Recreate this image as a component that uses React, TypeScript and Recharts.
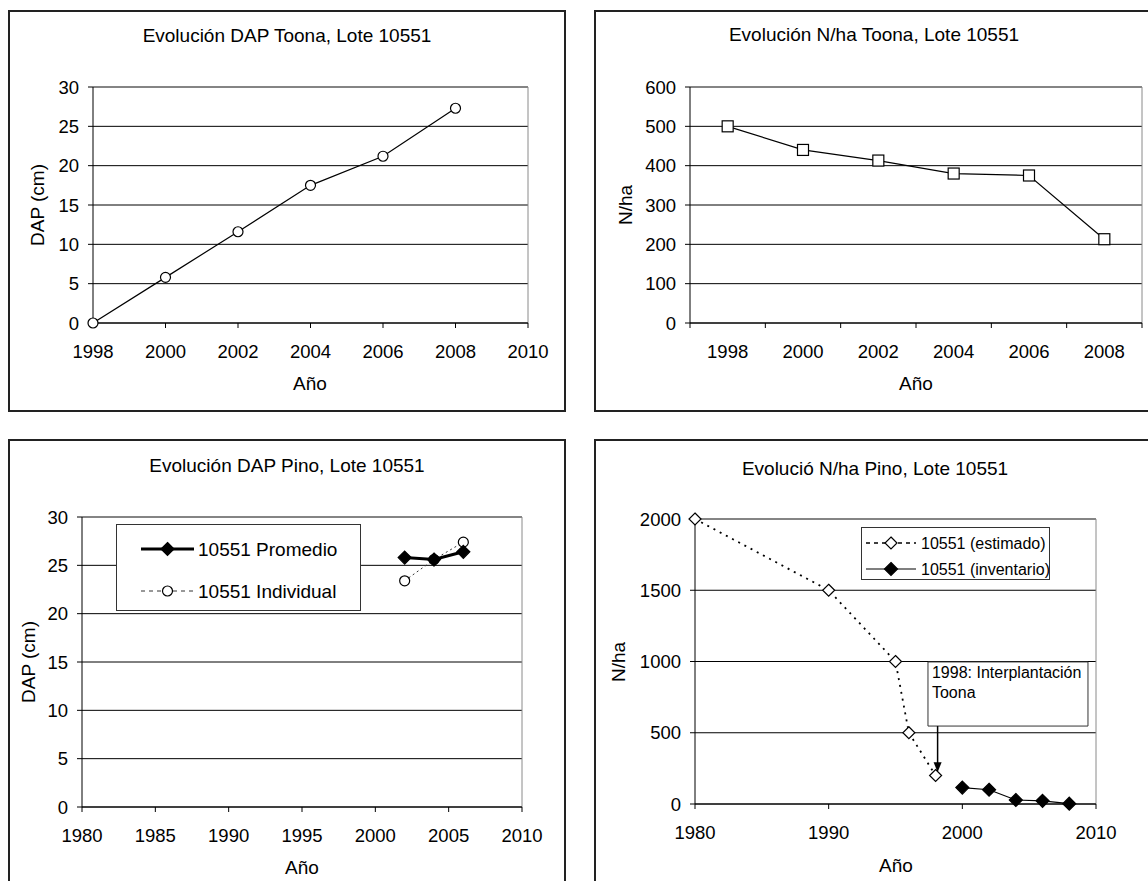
import React from 'react';
import {
  LineChart,
  Line,
  XAxis,
  YAxis,
  CartesianGrid,
  ReferenceLine,
  ReferenceArea,
  Legend,
} from 'recharts';

const FONT = '"Liberation Sans", Arial, Helvetica, sans-serif';

// Toona, lote 10551
const toonaYears = [1998, 2000, 2002, 2004, 2006, 2008];
const toonaDap = [0, 5.8, 11.6, 17.5, 21.2, 27.3];
const toonaN = [500, 440, 413, 380, 375, 213];

// Pino, lote 10551 - DAP
const pinoDapYears = [2002, 2004, 2006];
const pinoDapPromedio = [25.8, 25.6, 26.4];
const pinoDapIndividual = [23.4, 25.6, 27.4];

// Pino, lote 10551 - N/ha
const pinoEstYears = [1980, 1990, 1995, 1996, 1998];
const pinoEstN = [2000, 1500, 1000, 500, 200];
const pinoInvYears = [2000, 2002, 2004, 2006, 2008];
const pinoInvN = [115, 100, 28, 22, 2];

// ticks
const dapTicks = [0, 5, 10, 15, 20, 25, 30];
const toonaYearTicks = [1998, 2000, 2002, 2004, 2006, 2008, 2010];
const toonaNTicks = [0, 100, 200, 300, 400, 500, 600];
const toonaCatTicks = [1997, 1998, 1999, 2000, 2001, 2002, 2003, 2004, 2005, 2006, 2007, 2008, 2009];
const pinoYearTicks5 = [1980, 1985, 1990, 1995, 2000, 2005, 2010];
const pinoYearTicks10 = [1980, 1990, 2000, 2010];
const pinoNTicks = [0, 500, 1000, 1500, 2000];

// note on the N/ha Pino chart
const notaLines = ['1998: Interplantación', 'Toona'];
const notaBox = { x1: 1997.43, x2: 2009.4, y1: 547, y2: 997 };
const notaArrow = { x: 1998.15, from: 547, to: 222 };

const toonaDapData = toonaYears.map((year, i) => ({ year, dap: toonaDap[i] }));
const toonaNData = toonaYears.map((year, i) => ({ year, n: toonaN[i] }));
const promedioData = pinoDapYears.map((year, i) => ({ year, v: pinoDapPromedio[i] }));
const individualData = pinoDapYears.map((year, i) => ({ year, v: pinoDapIndividual[i] }));
const estimadoData = pinoEstYears.map((year, i) => ({ year, v: pinoEstN[i] }));
const inventarioData = pinoInvYears.map((year, i) => ({ year, v: pinoInvN[i] }));

const TICK = { fill: '#000', fontSize: 18.5 };
const GRAY = '#8a8a8a';

type MarkerKind = 'circle' | 'square' | 'diamond' | 'openDiamond';

function marker(kind: MarkerKind, cx: number, cy: number, key?: React.Key) {
  if (kind === 'circle')
    return <circle key={key} cx={cx} cy={cy} r={5} fill="#fff" stroke="#000" strokeWidth={1.2} />;
  if (kind === 'square')
    return <rect key={key} x={cx - 5.5} y={cy - 5.5} width={11} height={11} fill="#fff" stroke="#000" strokeWidth={1.2} />;
  const h = kind === 'diamond' ? 6.5 : 6;
  return (
    <polygon
      key={key}
      points={`${cx},${cy - h} ${cx + h},${cy} ${cx},${cy + h} ${cx - h},${cy}`}
      fill={kind === 'diamond' ? '#000' : '#fff'}
      stroke="#000"
      strokeWidth={1.2}
    />
  );
}

const dotOf = (kind: MarkerKind) => (props: any) => {
  const { cx, cy, index } = props;
  if (cx == null || cy == null) return <g key={`e-${index}`} />;
  return marker(kind, cx, cy, `m-${index}`);
};

function Txt({ x, y, text, size = 19, rotate = false }: { x: number; y: number; text: string; size?: number; rotate?: boolean }) {
  return (
    <div
      style={{
        position: 'absolute',
        left: x,
        top: y,
        transform: `translate(-50%, -50%)${rotate ? ' rotate(-90deg)' : ''}`,
        fontSize: size,
        lineHeight: 1,
        whiteSpace: 'nowrap',
        color: '#000',
      }}
    >
      {text}
    </div>
  );
}

function Frame({ left, top, width, height }: { left: number; top: number; width: number; height: number }) {
  return (
    <div
      style={{
        position: 'absolute',
        left,
        top,
        width,
        height,
        border: '2px solid #222',
        boxSizing: 'border-box',
        background: '#fff',
      }}
    />
  );
}

type LegendRow = { name: string; width: number; dash?: string; color: string; marker: MarkerKind };

function LegendBox({ rows, w, h, rowY, x0, x1, tx, fontSize }: {
  rows: LegendRow[]; w: number; h: number; rowY: number[]; x0: number; x1: number; tx: number; fontSize: number;
}) {
  const mx = (x0 + x1) / 2;
  return (
    <div style={{ width: w, height: h, border: '1px solid #333', background: '#fff', boxSizing: 'border-box' }}>
      <svg width={w - 2} height={h - 2} style={{ display: 'block' }}>
        {rows.map((r, i) => (
          <g key={r.name}>
            <line x1={x0} x2={x1} y1={rowY[i]} y2={rowY[i]} stroke={r.color} strokeWidth={r.width} strokeDasharray={r.dash} />
            {marker(r.marker, mx, rowY[i])}
            <text x={tx} y={rowY[i]} dy="0.35em" fontSize={fontSize} fill="#000">{r.name}</text>
          </g>
        ))}
      </svg>
    </div>
  );
}

function CategoryTick(props: any) {
  const { x, y, payload } = props;
  const v = payload.value;
  if (toonaYears.includes(v)) {
    return (
      <text x={x} y={y + 22} dy="0.71em" textAnchor="middle" fontSize={18.5} fill="#000">
        {v}
      </text>
    );
  }
  return <line x1={x} y1={y} x2={x} y2={y + 5} stroke="#000" />;
}

function ArrowShape(props: any) {
  const { x1, y1, x2, y2 } = props;
  const top = Math.min(y1, y2);
  const bottom = Math.max(y1, y2);
  return (
    <g>
      <line x1={x1} x2={x2} y1={top} y2={bottom - 9} stroke="#000" strokeWidth={1.5} />
      <polygon points={`${x2 - 4},${bottom - 10} ${x2 + 4},${bottom - 10} ${x2},${bottom}`} fill="#000" />
    </g>
  );
}

function NotaLabel(props: any) {
  const vb = props.viewBox || {};
  return (
    <text x={vb.x + 4} y={vb.y + 10} fontSize={16} fill="#000">
      {notaLines.map((l, i) => (
        <tspan key={l} x={vb.x + 4} dy={i === 0 ? '0.35em' : 20}>{l}</tspan>
      ))}
    </text>
  );
}

const pinoDapLegend: LegendRow[] = [
  { name: '10551 Promedio', width: 3, color: '#000', marker: 'diamond' },
  { name: '10551 Individual', width: 1, dash: '4 4', color: '#333', marker: 'circle' },
];
const pinoNLegend: LegendRow[] = [
  { name: '10551 (estimado)', width: 1.5, dash: '4 4', color: '#000', marker: 'openDiamond' },
  { name: '10551 (inventario)', width: 1.2, color: '#000', marker: 'diamond' },
];

export default function App() {
  return (
    <div
      style={{
        position: 'absolute',
        left: 0,
        top: 0,
        width: 1148,
        height: 881,
        overflow: 'hidden',
        background: '#fff',
        fontFamily: FONT,
      }}
    >
      {/* Panel 1: DAP Toona */}
      <Frame left={8} top={10} width={558} height={402} />
      <div style={{ position: 'absolute', left: 9, top: 10 }}>
        <LineChart width={556} height={401} margin={{ top: 77, right: 37, left: 34, bottom: 21 }} data={toonaDapData}>
          <CartesianGrid vertical={false} stroke="#000" />
          <XAxis
            dataKey="year"
            type="number"
            domain={[1998, 2010]}
            ticks={toonaYearTicks}
            interval={0}
            height={67}
            tick={TICK}
            tickSize={5}
            tickMargin={17}
            stroke="#000"
          />
          <YAxis domain={[0, 30]} ticks={dapTicks} interval={0} width={50} tick={TICK} tickSize={5} tickMargin={9} stroke="#000" />
          <ReferenceLine y={30} stroke={GRAY} />
          <ReferenceLine x={2010} stroke={GRAY} />
          <Line dataKey="dap" stroke="#000" strokeWidth={1.2} dot={dotOf('circle')} isAnimationActive={false} />
        </LineChart>
      </div>
      <Txt x={287} y={35} text="Evolución DAP Toona, Lote 10551" />
      <Txt x={37} y={205} text="DAP (cm)" rotate />
      <Txt x={310} y={383} text="Año" />

      {/* Panel 2: N/ha Toona */}
      <Frame left={594} top={10} width={562} height={402} />
      <div style={{ position: 'absolute', left: 595, top: 10 }}>
        <LineChart width={560} height={401} margin={{ top: 77, right: 13, left: 45, bottom: 21 }} data={toonaNData}>
          <CartesianGrid vertical={false} stroke="#000" />
          <XAxis
            dataKey="year"
            type="number"
            domain={[1997, 2009]}
            ticks={toonaCatTicks}
            interval={0}
            height={67}
            tick={<CategoryTick />}
            tickLine={false}
            tickSize={0}
            tickMargin={0}
            stroke="#000"
          />
          <YAxis domain={[0, 600]} ticks={toonaNTicks} interval={0} width={50} tick={TICK} tickSize={5} tickMargin={9} stroke="#000" />
          <ReferenceLine y={600} stroke={GRAY} />
          <ReferenceLine x={2009} stroke={GRAY} />
          <Line dataKey="n" stroke="#000" strokeWidth={1.2} dot={dotOf('square')} isAnimationActive={false} />
        </LineChart>
      </div>
      <Txt x={874} y={34} text="Evolución N/ha Toona, Lote 10551" />
      <Txt x={625} y={205} text="N/ha" rotate />
      <Txt x={916} y={383} text="Año" />

      {/* Panel 3: DAP Pino */}
      <Frame left={8} top={439} width={558} height={470} />
      <div style={{ position: 'absolute', left: 9, top: 439 }}>
        <LineChart width={556} height={442} margin={{ top: 78, right: 43, left: 23, bottom: 7 }}>
          <CartesianGrid vertical={false} stroke="#000" />
          <XAxis
            dataKey="year"
            type="number"
            domain={[1980, 2010]}
            ticks={pinoYearTicks5}
            interval={0}
            height={67}
            tick={TICK}
            tickSize={5}
            tickMargin={17}
            stroke="#000"
            allowDuplicatedCategory={false}
          />
          <YAxis domain={[0, 30]} ticks={dapTicks} interval={0} width={50} tick={TICK} tickSize={5} tickMargin={9} stroke="#000" />
          <ReferenceLine y={30} stroke={GRAY} />
          <ReferenceLine x={2010} stroke={GRAY} />
          <Line
            data={individualData}
            dataKey="v"
            name="10551 Individual"
            stroke="#333"
            strokeWidth={1}
            strokeDasharray="2 3"
            dot={dotOf('circle')}
            isAnimationActive={false}
          />
          <Line
            data={promedioData}
            dataKey="v"
            name="10551 Promedio"
            stroke="#000"
            strokeWidth={3}
            dot={dotOf('diamond')}
            isAnimationActive={false}
          />
          <Legend
            layout="horizontal"
            verticalAlign="middle"
            align="center"
            wrapperStyle={{ left: 107, top: 85 }}
            content={() => (
              <LegendBox rows={pinoDapLegend} w={245} h={87} rowY={[24, 66]} x0={24} x1={77} tx={81} fontSize={19} />
            )}
          />
        </LineChart>
      </div>
      <Txt x={287} y={465} text="Evolución DAP Pino, Lote 10551" />
      <Txt x={28} y={662} text="DAP (cm)" rotate />
      <Txt x={302} y={867} text="Año" />

      {/* Panel 4: N/ha Pino */}
      <Frame left={594} top={439} width={562} height={470} />
      <div style={{ position: 'absolute', left: 595, top: 439 }}>
        <LineChart width={558} height={442} margin={{ top: 80, right: 57, left: 40, bottom: 10 }}>
          <CartesianGrid vertical={false} stroke="#000" />
          <XAxis
            dataKey="year"
            type="number"
            domain={[1980, 2010]}
            ticks={pinoYearTicks10}
            interval={0}
            height={67}
            tick={TICK}
            tickSize={5}
            tickMargin={17}
            stroke="#000"
            allowDuplicatedCategory={false}
          />
          <YAxis domain={[0, 2000]} ticks={pinoNTicks} interval={0} width={60} tick={TICK} tickSize={5} tickMargin={9} stroke="#000" />
          <ReferenceLine y={2000} stroke={GRAY} />
          <ReferenceLine x={2010} stroke={GRAY} />
          <ReferenceArea
            x1={notaBox.x1}
            x2={notaBox.x2}
            y1={notaBox.y1}
            y2={notaBox.y2}
            fill="#fff"
            fillOpacity={1}
            stroke="#333"
            strokeWidth={1}
            label={NotaLabel}
          />
          <ReferenceLine
            segment={[
              { x: notaArrow.x, y: notaArrow.from },
              { x: notaArrow.x, y: notaArrow.to },
            ]}
            shape={ArrowShape}
          />
          <Line
            data={estimadoData}
            dataKey="v"
            name="10551 (estimado)"
            stroke="#000"
            strokeWidth={1.8}
            strokeDasharray="2 5"
            dot={dotOf('openDiamond')}
            isAnimationActive={false}
          />
          <Line
            data={inventarioData}
            dataKey="v"
            name="10551 (inventario)"
            stroke="#000"
            strokeWidth={1.2}
            dot={dotOf('diamond')}
            isAnimationActive={false}
          />
          <Legend
            layout="horizontal"
            verticalAlign="middle"
            align="center"
            wrapperStyle={{ left: 266, top: 88 }}
            content={() => (
              <LegendBox rows={pinoNLegend} w={189} h={53} rowY={[15, 41]} x0={4} x1={54} tx={59} fontSize={16} />
            )}
          />
        </LineChart>
      </div>
      <Txt x={875} y={468} text="Evolució N/ha Pino, Lote 10551" />
      <Txt x={618} y={662} text="N/ha" rotate />
      <Txt x={896} y={865} text="Año" />
    </div>
  );
}
